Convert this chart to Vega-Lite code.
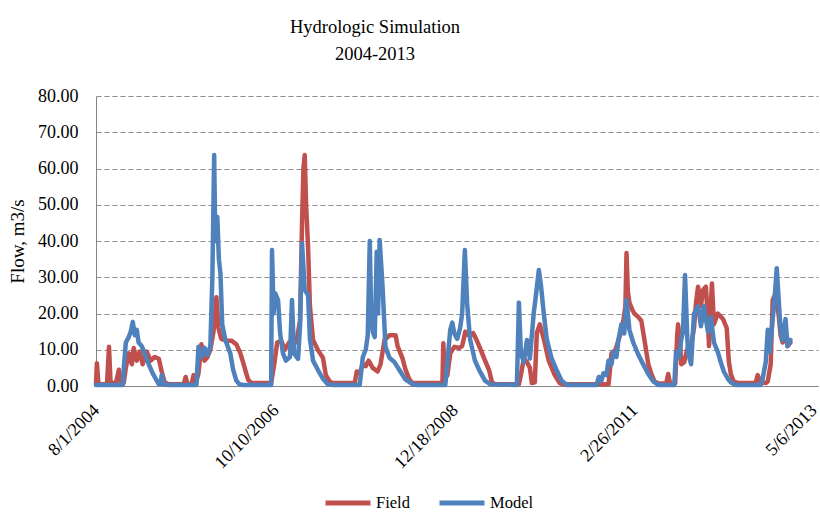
{
"$schema": "https://vega.github.io/schema/vega-lite/v6.json",
"width": 722, "height": 290,
"autosize": {"type": "none"},
"padding": {"left": 96, "top": 96, "right": 2, "bottom": 128},
"background": "white",
"title": {"text": ["Hydrologic Simulation", "2004-2013"], "font": "serif", "fontSize": 18.5, "fontWeight": "normal", "color": "#000000", "lineHeight": 27, "anchor": "middle", "dx": -82, "offset": 24},
"config": {
  "view": {"stroke": null},
  "font": "serif",
  "text": {"font": "serif"},
  "style": {
    "guide-label": {"font": "serif"},
    "guide-title": {"font": "serif"}
  }
},
"data": {"values": [
{"date":"2004-08-01","series":"Field","flow":0.5},
{"date":"2004-08-05","series":"Field","flow":6.3},
{"date":"2004-08-12","series":"Field","flow":0.5},
{"date":"2004-09-19","series":"Field","flow":0.5},
{"date":"2004-09-28","series":"Field","flow":10.8},
{"date":"2004-10-05","series":"Field","flow":0.8},
{"date":"2004-10-29","series":"Field","flow":0.8},
{"date":"2004-11-11","series":"Field","flow":4.5},
{"date":"2004-11-20","series":"Field","flow":1},
{"date":"2004-12-03","series":"Field","flow":1},
{"date":"2004-12-12","series":"Field","flow":5},
{"date":"2004-12-25","series":"Field","flow":9},
{"date":"2005-01-08","series":"Field","flow":6},
{"date":"2005-01-16","series":"Field","flow":10.5},
{"date":"2005-01-30","series":"Field","flow":7},
{"date":"2005-02-12","series":"Field","flow":9.5},
{"date":"2005-02-25","series":"Field","flow":6},
{"date":"2005-03-15","series":"Field","flow":9.5},
{"date":"2005-04-02","series":"Field","flow":7},
{"date":"2005-04-20","series":"Field","flow":8},
{"date":"2005-05-08","series":"Field","flow":7.5},
{"date":"2005-05-21","series":"Field","flow":4},
{"date":"2005-06-03","series":"Field","flow":1},
{"date":"2005-06-21","series":"Field","flow":0.5},
{"date":"2005-08-27","series":"Field","flow":0.5},
{"date":"2005-09-05","series":"Field","flow":2.5},
{"date":"2005-09-13","series":"Field","flow":0.5},
{"date":"2005-10-01","series":"Field","flow":0.5},
{"date":"2005-10-10","series":"Field","flow":3},
{"date":"2005-10-19","series":"Field","flow":0.5},
{"date":"2005-11-01","series":"Field","flow":3.5},
{"date":"2005-11-14","series":"Field","flow":11.5},
{"date":"2005-11-28","series":"Field","flow":7},
{"date":"2005-12-11","series":"Field","flow":8},
{"date":"2005-12-24","series":"Field","flow":10},
{"date":"2006-01-07","series":"Field","flow":15},
{"date":"2006-01-20","series":"Field","flow":24.5},
{"date":"2006-01-29","series":"Field","flow":16},
{"date":"2006-02-11","series":"Field","flow":13},
{"date":"2006-03-05","series":"Field","flow":12.5},
{"date":"2006-03-28","series":"Field","flow":12.5},
{"date":"2006-04-19","series":"Field","flow":11.5},
{"date":"2006-05-07","series":"Field","flow":9},
{"date":"2006-05-20","series":"Field","flow":6.3},
{"date":"2006-06-02","series":"Field","flow":3.5},
{"date":"2006-06-11","series":"Field","flow":1.7},
{"date":"2006-06-24","series":"Field","flow":0.8},
{"date":"2006-09-21","series":"Field","flow":0.8},
{"date":"2006-10-05","series":"Field","flow":6},
{"date":"2006-10-18","series":"Field","flow":12},
{"date":"2006-11-05","series":"Field","flow":12.5},
{"date":"2006-11-22","series":"Field","flow":10},
{"date":"2006-12-10","series":"Field","flow":12},
{"date":"2006-12-28","series":"Field","flow":11},
{"date":"2007-01-14","series":"Field","flow":13},
{"date":"2007-01-28","series":"Field","flow":18},
{"date":"2007-02-06","series":"Field","flow":45},
{"date":"2007-02-12","series":"Field","flow":60},
{"date":"2007-02-18","series":"Field","flow":63.7},
{"date":"2007-02-24","series":"Field","flow":50},
{"date":"2007-03-05","series":"Field","flow":38},
{"date":"2007-03-13","series":"Field","flow":22},
{"date":"2007-03-27","series":"Field","flow":12.7},
{"date":"2007-04-18","series":"Field","flow":9.9},
{"date":"2007-05-10","series":"Field","flow":7.8},
{"date":"2007-05-23","series":"Field","flow":3},
{"date":"2007-06-10","series":"Field","flow":1.2},
{"date":"2007-06-23","series":"Field","flow":0.8},
{"date":"2007-09-29","series":"Field","flow":0.8},
{"date":"2007-10-08","series":"Field","flow":4},
{"date":"2007-10-21","series":"Field","flow":3.5},
{"date":"2007-11-04","series":"Field","flow":6},
{"date":"2007-11-17","series":"Field","flow":5.5},
{"date":"2007-11-30","series":"Field","flow":7},
{"date":"2007-12-18","series":"Field","flow":5},
{"date":"2008-01-09","series":"Field","flow":4},
{"date":"2008-01-22","series":"Field","flow":6},
{"date":"2008-02-09","series":"Field","flow":12.7},
{"date":"2008-03-02","series":"Field","flow":14},
{"date":"2008-03-29","series":"Field","flow":14},
{"date":"2008-04-07","series":"Field","flow":11},
{"date":"2008-04-29","series":"Field","flow":7.6},
{"date":"2008-05-12","series":"Field","flow":4.6},
{"date":"2008-05-30","series":"Field","flow":1.8},
{"date":"2008-06-12","series":"Field","flow":0.8},
{"date":"2008-10-24","series":"Field","flow":0.8},
{"date":"2008-10-28","series":"Field","flow":11.8},
{"date":"2008-11-04","series":"Field","flow":2},
{"date":"2008-11-15","series":"Field","flow":3},
{"date":"2008-11-28","series":"Field","flow":9},
{"date":"2008-12-16","series":"Field","flow":10.8},
{"date":"2009-01-07","series":"Field","flow":10.5},
{"date":"2009-01-20","series":"Field","flow":11},
{"date":"2009-02-03","series":"Field","flow":15},
{"date":"2009-02-20","series":"Field","flow":14},
{"date":"2009-03-10","series":"Field","flow":14.6},
{"date":"2009-03-23","series":"Field","flow":13},
{"date":"2009-04-06","series":"Field","flow":11},
{"date":"2009-04-28","series":"Field","flow":7.6},
{"date":"2009-05-20","series":"Field","flow":4.4},
{"date":"2009-06-02","series":"Field","flow":1},
{"date":"2009-06-16","series":"Field","flow":0.5},
{"date":"2009-09-30","series":"Field","flow":0.5},
{"date":"2009-10-09","series":"Field","flow":3},
{"date":"2009-10-22","series":"Field","flow":7.6},
{"date":"2009-11-05","series":"Field","flow":6.6},
{"date":"2009-11-18","series":"Field","flow":5},
{"date":"2009-11-27","series":"Field","flow":0.8},
{"date":"2009-12-10","series":"Field","flow":1},
{"date":"2009-12-19","series":"Field","flow":14.6},
{"date":"2010-01-01","series":"Field","flow":17},
{"date":"2010-01-19","series":"Field","flow":13},
{"date":"2010-02-10","series":"Field","flow":7},
{"date":"2010-03-09","series":"Field","flow":3},
{"date":"2010-03-31","series":"Field","flow":0.8},
{"date":"2010-04-13","series":"Field","flow":0.5},
{"date":"2010-11-04","series":"Field","flow":0.5},
{"date":"2010-11-17","series":"Field","flow":9},
{"date":"2010-12-05","series":"Field","flow":10},
{"date":"2010-12-18","series":"Field","flow":12.7},
{"date":"2010-12-31","series":"Field","flow":15},
{"date":"2011-01-09","series":"Field","flow":18},
{"date":"2011-01-18","series":"Field","flow":22},
{"date":"2011-01-23","series":"Field","flow":36.7},
{"date":"2011-01-29","series":"Field","flow":26},
{"date":"2011-02-05","series":"Field","flow":23},
{"date":"2011-02-18","series":"Field","flow":21},
{"date":"2011-02-27","series":"Field","flow":20},
{"date":"2011-03-17","series":"Field","flow":19},
{"date":"2011-03-30","series":"Field","flow":18},
{"date":"2011-04-13","series":"Field","flow":12.7},
{"date":"2011-04-30","series":"Field","flow":6},
{"date":"2011-05-13","series":"Field","flow":3.5},
{"date":"2011-05-27","series":"Field","flow":1.3},
{"date":"2011-06-14","series":"Field","flow":0.7},
{"date":"2011-07-19","series":"Field","flow":0.7},
{"date":"2011-07-28","series":"Field","flow":3.3},
{"date":"2011-08-05","series":"Field","flow":0.7},
{"date":"2011-08-28","series":"Field","flow":0.7},
{"date":"2011-09-06","series":"Field","flow":14},
{"date":"2011-09-10","series":"Field","flow":17},
{"date":"2011-09-19","series":"Field","flow":12},
{"date":"2011-09-24","series":"Field","flow":6},
{"date":"2011-10-07","series":"Field","flow":6.5},
{"date":"2011-10-20","series":"Field","flow":10},
{"date":"2011-11-07","series":"Field","flow":11},
{"date":"2011-11-20","series":"Field","flow":16},
{"date":"2011-11-29","series":"Field","flow":23},
{"date":"2011-12-08","series":"Field","flow":27.4},
{"date":"2011-12-21","series":"Field","flow":22},
{"date":"2011-12-30","series":"Field","flow":26.5},
{"date":"2012-01-12","series":"Field","flow":27.4},
{"date":"2012-01-21","series":"Field","flow":18},
{"date":"2012-01-26","series":"Field","flow":11},
{"date":"2012-02-01","series":"Field","flow":20},
{"date":"2012-02-08","series":"Field","flow":28.3},
{"date":"2012-02-17","series":"Field","flow":17},
{"date":"2012-03-05","series":"Field","flow":20},
{"date":"2012-03-28","series":"Field","flow":18.5},
{"date":"2012-04-14","series":"Field","flow":16},
{"date":"2012-04-23","series":"Field","flow":7},
{"date":"2012-05-02","series":"Field","flow":3.3},
{"date":"2012-05-15","series":"Field","flow":1.3},
{"date":"2012-06-02","series":"Field","flow":0.8},
{"date":"2012-08-21","series":"Field","flow":0.8},
{"date":"2012-08-30","series":"Field","flow":3},
{"date":"2012-09-13","series":"Field","flow":1},
{"date":"2012-10-05","series":"Field","flow":0.8},
{"date":"2012-10-14","series":"Field","flow":1.3},
{"date":"2012-10-27","series":"Field","flow":6},
{"date":"2012-11-05","series":"Field","flow":23.7},
{"date":"2012-11-14","series":"Field","flow":25},
{"date":"2012-11-23","series":"Field","flow":22},
{"date":"2012-12-01","series":"Field","flow":20},
{"date":"2012-12-10","series":"Field","flow":14},
{"date":"2012-12-19","series":"Field","flow":12},
{"date":"2013-01-01","series":"Field","flow":15},
{"date":"2013-01-10","series":"Field","flow":11},
{"date":"2013-01-23","series":"Field","flow":12},
{"date":"2004-08-01","series":"Model","flow":0.3},
{"date":"2004-11-29","series":"Model","flow":0.3},
{"date":"2004-12-03","series":"Model","flow":5},
{"date":"2004-12-12","series":"Model","flow":12},
{"date":"2004-12-25","series":"Model","flow":13.5},
{"date":"2005-01-03","series":"Model","flow":15},
{"date":"2005-01-12","series":"Model","flow":17.7},
{"date":"2005-01-21","series":"Model","flow":14},
{"date":"2005-01-30","series":"Model","flow":15.5},
{"date":"2005-02-07","series":"Model","flow":12},
{"date":"2005-02-21","series":"Model","flow":11},
{"date":"2005-03-06","series":"Model","flow":9},
{"date":"2005-03-24","series":"Model","flow":6},
{"date":"2005-04-11","series":"Model","flow":3.5},
{"date":"2005-04-29","series":"Model","flow":1.5},
{"date":"2005-05-08","series":"Model","flow":0.5},
{"date":"2005-05-16","series":"Model","flow":0.5},
{"date":"2005-05-21","series":"Model","flow":3},
{"date":"2005-05-30","series":"Model","flow":0.5},
{"date":"2005-06-21","series":"Model","flow":0.3},
{"date":"2005-10-23","series":"Model","flow":0.3},
{"date":"2005-11-01","series":"Model","flow":10.8},
{"date":"2005-11-14","series":"Model","flow":8},
{"date":"2005-11-28","series":"Model","flow":10.5},
{"date":"2005-12-11","series":"Model","flow":8.5},
{"date":"2005-12-24","series":"Model","flow":11},
{"date":"2006-01-02","series":"Model","flow":30},
{"date":"2006-01-10","series":"Model","flow":63.7},
{"date":"2006-01-15","series":"Model","flow":40},
{"date":"2006-01-24","series":"Model","flow":46.6},
{"date":"2006-01-31","series":"Model","flow":35},
{"date":"2006-02-07","series":"Model","flow":31},
{"date":"2006-02-15","series":"Model","flow":17},
{"date":"2006-03-01","series":"Model","flow":12.7},
{"date":"2006-03-23","series":"Model","flow":9},
{"date":"2006-04-05","series":"Model","flow":4.4},
{"date":"2006-04-19","series":"Model","flow":1.5},
{"date":"2006-05-02","series":"Model","flow":0.5},
{"date":"2006-05-20","series":"Model","flow":0.3},
{"date":"2006-09-21","series":"Model","flow":0.3},
{"date":"2006-09-25","series":"Model","flow":37.5},
{"date":"2006-10-02","series":"Model","flow":20},
{"date":"2006-10-09","series":"Model","flow":25.6},
{"date":"2006-10-22","series":"Model","flow":23.7},
{"date":"2006-10-31","series":"Model","flow":14.6},
{"date":"2006-11-13","series":"Model","flow":9},
{"date":"2006-11-26","series":"Model","flow":7},
{"date":"2006-12-14","series":"Model","flow":8},
{"date":"2006-12-23","series":"Model","flow":23.7},
{"date":"2007-01-01","series":"Model","flow":9},
{"date":"2007-01-19","series":"Model","flow":7.5},
{"date":"2007-01-28","series":"Model","flow":16.5},
{"date":"2007-02-06","series":"Model","flow":39.4},
{"date":"2007-02-18","series":"Model","flow":26.5},
{"date":"2007-03-05","series":"Model","flow":25},
{"date":"2007-03-13","series":"Model","flow":13},
{"date":"2007-03-27","series":"Model","flow":7},
{"date":"2007-04-18","series":"Model","flow":4.4},
{"date":"2007-05-10","series":"Model","flow":2},
{"date":"2007-06-01","series":"Model","flow":0.5},
{"date":"2007-06-23","series":"Model","flow":0.3},
{"date":"2007-10-21","series":"Model","flow":0.3},
{"date":"2007-11-04","series":"Model","flow":8},
{"date":"2007-11-17","series":"Model","flow":10},
{"date":"2007-11-26","series":"Model","flow":14},
{"date":"2007-12-05","series":"Model","flow":40},
{"date":"2007-12-11","series":"Model","flow":20},
{"date":"2007-12-18","series":"Model","flow":15},
{"date":"2007-12-27","series":"Model","flow":13.5},
{"date":"2008-01-05","series":"Model","flow":37},
{"date":"2008-01-11","series":"Model","flow":20},
{"date":"2008-01-18","series":"Model","flow":40.3},
{"date":"2008-01-31","series":"Model","flow":27.4},
{"date":"2008-02-13","series":"Model","flow":10.8},
{"date":"2008-03-02","series":"Model","flow":7.8},
{"date":"2008-03-24","series":"Model","flow":6.6},
{"date":"2008-04-15","series":"Model","flow":4.4},
{"date":"2008-05-12","series":"Model","flow":1.8},
{"date":"2008-06-12","series":"Model","flow":0.5},
{"date":"2008-07-05","series":"Model","flow":0.3},
{"date":"2008-11-06","series":"Model","flow":0.3},
{"date":"2008-11-15","series":"Model","flow":6.6},
{"date":"2008-11-28","series":"Model","flow":15.5},
{"date":"2008-12-07","series":"Model","flow":17.5},
{"date":"2008-12-16","series":"Model","flow":14.5},
{"date":"2008-12-29","series":"Model","flow":13},
{"date":"2009-01-11","series":"Model","flow":16},
{"date":"2009-01-20","series":"Model","flow":20},
{"date":"2009-02-01","series":"Model","flow":37.5},
{"date":"2009-02-11","series":"Model","flow":23},
{"date":"2009-02-24","series":"Model","flow":13},
{"date":"2009-03-18","series":"Model","flow":7},
{"date":"2009-04-06","series":"Model","flow":4.4},
{"date":"2009-05-02","series":"Model","flow":1.5},
{"date":"2009-05-28","series":"Model","flow":0.4},
{"date":"2009-09-21","series":"Model","flow":0.3},
{"date":"2009-09-25","series":"Model","flow":10},
{"date":"2009-09-30","series":"Model","flow":23},
{"date":"2009-10-09","series":"Model","flow":9},
{"date":"2009-10-22","series":"Model","flow":6.6},
{"date":"2009-11-05","series":"Model","flow":12.7},
{"date":"2009-11-18","series":"Model","flow":7.6},
{"date":"2009-12-05","series":"Model","flow":20},
{"date":"2009-12-14","series":"Model","flow":24.5},
{"date":"2009-12-28","series":"Model","flow":32},
{"date":"2010-01-06","series":"Model","flow":28},
{"date":"2010-01-19","series":"Model","flow":20},
{"date":"2010-02-01","series":"Model","flow":13},
{"date":"2010-02-23","series":"Model","flow":7.6},
{"date":"2010-03-17","series":"Model","flow":4.4},
{"date":"2010-04-08","series":"Model","flow":1.5},
{"date":"2010-05-01","series":"Model","flow":0.3},
{"date":"2010-09-12","series":"Model","flow":0.3},
{"date":"2010-09-21","series":"Model","flow":2.5},
{"date":"2010-10-03","series":"Model","flow":1.5},
{"date":"2010-10-12","series":"Model","flow":3.5},
{"date":"2010-10-25","series":"Model","flow":3},
{"date":"2010-11-04","series":"Model","flow":7},
{"date":"2010-11-17","series":"Model","flow":6},
{"date":"2010-11-26","series":"Model","flow":9.4},
{"date":"2010-12-09","series":"Model","flow":8},
{"date":"2010-12-18","series":"Model","flow":12.7},
{"date":"2010-12-31","series":"Model","flow":17},
{"date":"2011-01-13","series":"Model","flow":14.5},
{"date":"2011-01-23","series":"Model","flow":23.7},
{"date":"2011-02-05","series":"Model","flow":15.5},
{"date":"2011-02-22","series":"Model","flow":12},
{"date":"2011-03-17","series":"Model","flow":8.6},
{"date":"2011-04-08","series":"Model","flow":5.9},
{"date":"2011-04-30","series":"Model","flow":3.3},
{"date":"2011-05-22","series":"Model","flow":1.3},
{"date":"2011-06-14","series":"Model","flow":0.3},
{"date":"2011-08-24","series":"Model","flow":0.3},
{"date":"2011-09-01","series":"Model","flow":9.4},
{"date":"2011-09-14","series":"Model","flow":8},
{"date":"2011-09-24","series":"Model","flow":12.7},
{"date":"2011-10-02","series":"Model","flow":15},
{"date":"2011-10-11","series":"Model","flow":30.6},
{"date":"2011-10-20","series":"Model","flow":15},
{"date":"2011-10-24","series":"Model","flow":9.4},
{"date":"2011-11-07","series":"Model","flow":6},
{"date":"2011-11-20","series":"Model","flow":20},
{"date":"2011-12-08","series":"Model","flow":22},
{"date":"2011-12-21","series":"Model","flow":16.5},
{"date":"2012-01-03","series":"Model","flow":22},
{"date":"2012-01-21","series":"Model","flow":15},
{"date":"2012-02-03","series":"Model","flow":19},
{"date":"2012-02-17","series":"Model","flow":12},
{"date":"2012-03-05","series":"Model","flow":9.4},
{"date":"2012-03-18","series":"Model","flow":6.6},
{"date":"2012-04-01","series":"Model","flow":4},
{"date":"2012-04-19","series":"Model","flow":2},
{"date":"2012-05-02","series":"Model","flow":1},
{"date":"2012-05-25","series":"Model","flow":0.3},
{"date":"2012-09-13","series":"Model","flow":0.3},
{"date":"2012-09-21","series":"Model","flow":2},
{"date":"2012-10-05","series":"Model","flow":6.6},
{"date":"2012-10-14","series":"Model","flow":15.5},
{"date":"2012-10-23","series":"Model","flow":9.4},
{"date":"2012-11-05","series":"Model","flow":18.5},
{"date":"2012-11-14","series":"Model","flow":24.5},
{"date":"2012-11-23","series":"Model","flow":32.5},
{"date":"2012-12-01","series":"Model","flow":24.5},
{"date":"2012-12-10","series":"Model","flow":15.5},
{"date":"2012-12-19","series":"Model","flow":12.7},
{"date":"2013-01-01","series":"Model","flow":18.5},
{"date":"2013-01-10","series":"Model","flow":11},
{"date":"2013-01-23","series":"Model","flow":12.7}
]},
"mark": {"type": "line", "strokeWidth": 4.5, "strokeJoin": "round", "strokeCap": "round"},
"encoding": {
  "x": {"field": "date", "type": "temporal",
    "scale": {"domain": [{"year": 2004, "month": 8, "date": 1}, {"year": 2013, "month": 5, "date": 26}]},
    "axis": {"values": [{"year": 2004, "month": 8, "date": 1}, {"year": 2006, "month": 10, "date": 10}, {"year": 2008, "month": 12, "date": 18}, {"year": 2011, "month": 2, "date": 26}, {"year": 2013, "month": 5, "date": 6}],
      "format": "%-m/%-d/%Y", "labelAngle": -45, "labelAlign": "right", "labelBaseline": "top", "grid": false, "ticks": false, "title": null,
      "labelFont": "serif", "labelFontSize": 18, "labelColor": "#000000", "domainColor": "#868686", "domainWidth": 1, "labelPadding": 15, "labelOffset": -6,
      "labelOverlap": false, "labelFlush": false, "labelBound": false}},
  "y": {"field": "flow", "type": "quantitative",
    "scale": {"domain": [0, 80], "nice": false},
    "axis": {"values": [0, 10, 20, 30, 40, 50, 60, 70, 80], "format": ".2f", "title": "Flow, m3/s", "grid": true, "gridDash": [5, 3], "gridColor": "#8c8c8c", "gridWidth": 1, "ticks": false,
      "domainColor": "#868686", "labelFont": "serif", "labelFontSize": 18, "labelColor": "#000000", "labelPadding": 18,
      "titleFont": "serif", "titleFontSize": 19, "titleFontWeight": "normal", "titleColor": "#000000", "titlePadding": 10}},
  "color": {"field": "series", "type": "nominal",
    "scale": {"domain": ["Field", "Model"], "range": ["#C0504D", "#4F81BD"]},
    "legend": {"title": null, "orient": "none", "legendX": 227, "legendY": 382, "direction": "horizontal", "gridAlign": "none", "symbolType": "stroke", "symbolSize": 2025, "symbolStrokeWidth": 5,
      "labelFont": "serif", "labelFontSize": 16.5, "labelColor": "#000000", "labelOffset": 3, "columnPadding": 19}}
}
}
